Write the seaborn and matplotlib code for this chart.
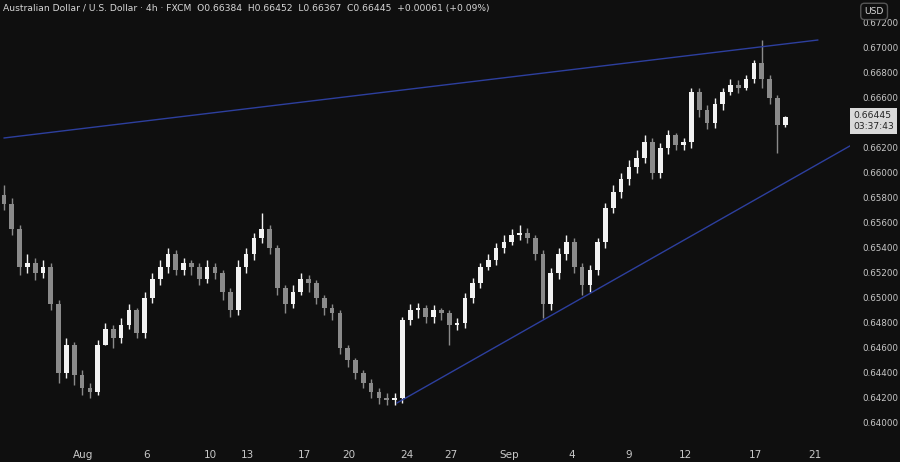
import matplotlib
matplotlib.use("Agg")
import matplotlib.pyplot as plt
import seaborn as sns
import numpy as np
import pandas as pd

closes = [0.6575,0.6555,0.6525,0.6528,0.6520,0.6525,0.6495,0.6440,0.6462,0.6438,
          0.6428,0.6425,0.6462,0.6475,0.6468,0.6478,0.6490,0.6472,0.6500,0.6515,
          0.6525,0.6535,0.6522,0.6528,0.6525,0.6515,0.6525,0.6520,0.6505,0.6490,
          0.6525,0.6535,0.6548,0.6555,0.6540,0.6508,0.6495,0.6505,0.6515,0.6512,
          0.6500,0.6492,0.6488,0.6460,0.6450,0.6440,0.6432,0.6425,0.6420,0.6418,
          0.6420,0.6482,0.6490,0.6492,0.6485,0.6490,0.6488,0.6478,0.6480,0.6500,
          0.6512,0.6525,0.6530,0.6540,0.6545,0.6550,0.6552,0.6548,0.6535,0.6495,
          0.6520,0.6535,0.6545,0.6525,0.6510,0.6522,0.6545,0.6572,0.6585,0.6595,
          0.6605,0.6612,0.6625,0.6600,0.6620,0.6630,0.6622,0.6625,0.6665,0.6650,
          0.6640,0.6655,0.6665,0.6670,0.6668,0.6675,0.6688,0.6675,0.6660,0.6638,
          0.66445]
opens = [0.6582] + closes[:-1]
highs = [0.6590,0.6580,0.6558,0.6535,0.6532,0.6530,0.6528,0.6498,0.6468,0.6465,
         0.6442,0.6432,0.6466,0.6480,0.6478,0.6484,0.6495,0.6492,0.6505,0.6520,
         0.6530,0.6540,0.6538,0.6532,0.6530,0.6528,0.6530,0.6528,0.6522,0.6508,
         0.6530,0.6540,0.6552,0.6568,0.6558,0.6542,0.6510,0.6510,0.6520,0.6518,
         0.6514,0.6502,0.6495,0.6490,0.6462,0.6452,0.6442,0.6435,0.6428,0.6424,
         0.6424,0.6485,0.6495,0.6496,0.6494,0.6494,0.6492,0.6490,0.6484,0.6504,
         0.6516,0.6528,0.6535,0.6544,0.6550,0.6555,0.6558,0.6556,0.6550,0.6538,
         0.6524,0.6540,0.6550,0.6548,0.6528,0.6526,0.6548,0.6576,0.6590,0.6600,
         0.6610,0.6618,0.6630,0.6628,0.6624,0.6634,0.6632,0.6628,0.6668,0.6668,
         0.6654,0.6660,0.6668,0.6675,0.6674,0.6678,0.6690,0.67064,0.6678,0.6662,
         0.66452]
lows =  [0.6570,0.6550,0.6518,0.6520,0.6514,0.6516,0.6490,0.6432,0.6436,0.6430,
         0.6422,0.6420,0.6422,0.6462,0.6460,0.6464,0.6475,0.6468,0.6468,0.6496,
         0.6510,0.6520,0.6518,0.6518,0.6518,0.6510,0.6512,0.6515,0.6498,0.6485,
         0.6486,0.6520,0.6530,0.6544,0.6535,0.6502,0.6488,0.6492,0.6502,0.6505,
         0.6495,0.6486,0.6482,0.6455,0.6445,0.6435,0.6428,0.6420,0.6415,0.6414,
         0.6414,0.6416,0.6478,0.6484,0.6480,0.6480,0.6482,0.6462,0.6474,0.6476,
         0.6496,0.6508,0.6522,0.6526,0.6536,0.6542,0.6546,0.6544,0.6530,0.6484,
         0.6490,0.6515,0.6530,0.6520,0.6502,0.6505,0.6518,0.6540,0.6568,0.6580,
         0.6590,0.6600,0.6608,0.6595,0.6596,0.6615,0.6618,0.6618,0.6620,0.6645,
         0.6635,0.6636,0.6650,0.6662,0.6664,0.6666,0.6672,0.6668,0.6655,0.6616,
         0.66367]

date_labels = ["Aug","6","10","13","17","20","24","27","Sep","4","9","12","17","21"]
date_pos = [10.2,18.2,26.4,31.2,38.5,44.1,51.6,57.2,64.7,72.7,80.0,87.3,96.2,103.8]
price_ticks = [0.640,0.642,0.644,0.646,0.648,0.650,0.652,0.654,0.656,0.658,
               0.660,0.662,0.666,0.668,0.670,0.672]
upper_line = ([0.0, 104.2], [0.6628, 0.67064])
lower_line = ([50.3, 108.5], [0.6416, 0.66224])
last_price = 0.66445

bg = "#0f0f0f"
sns.set_theme(style="dark")
df = pd.DataFrame({"i": np.arange(len(closes)), "o": opens, "c": closes, "h": highs, "l": lows})
df["up"] = df["c"] >= df["o"]

fig = plt.figure(figsize=(9, 4.62), dpi=100, facecolor=bg)
ax = fig.add_axes([0, 22/462, 850/900, 440/462])
ax.set_facecolor(bg)
for s in ax.spines.values():
    s.set_visible(False)
ax.grid(False)

up_c, dn_c = "#f2f2f2", "#8a8a8a"
for _, r in df.iterrows():
    col = up_c if r["up"] else dn_c
    ax.vlines(r["i"], r["l"], r["h"], color=col, lw=1, zorder=2)
    lo, hi = min(r["o"], r["c"]), max(r["o"], r["c"])
    ax.bar(r["i"], max(hi - lo, 0.00004), bottom=lo, width=0.6, color=col, zorder=3, linewidth=0)

sns.lineplot(x=upper_line[0], y=upper_line[1], ax=ax, color="#2d3f9e", lw=1)
sns.lineplot(x=lower_line[0], y=lower_line[1], ax=ax, color="#2d3f9e", lw=1)

ax.set_xlim(-0.5, 108.3)
ax.set_ylim(0.64 - 17/12500, 0.64 + 423/12500)
ax.set_xticks(date_pos)
ax.set_xticklabels(date_labels, color="#c8c8c8", fontsize=7.5)
ax.tick_params(axis="x", length=0, pad=7)
ax.yaxis.tick_right()
ax.set_yticks(price_ticks)
ax.set_yticklabels([f"{t:.5f}" for t in price_ticks], color="#c8c8c8", fontsize=6.3)
ax.tick_params(axis="y", length=0, pad=9)
ax.set_xlabel(""); ax.set_ylabel("")

ax.text(0.004, 0.99, "Australian Dollar / U.S. Dollar · 4h · FXCM  O0.66384  H0.66452  L0.66367  C0.66445  +0.00061 (+0.09%)",
        transform=ax.transAxes, color="#d8d8d8", fontsize=6.6, va="top", ha="left")
ax.text(1.004, last_price - 0.0003, f"{last_price:.5f}\n03:37:43", transform=ax.get_yaxis_transform(),
        color="#222222", fontsize=6.6, va="center", ha="left", linespacing=1.3,
        bbox=dict(boxstyle="square,pad=0.35", fc="#d9d9d9", ec="none"))
fig.text(0.982, 0.985, "USD", color="#d8d8d8", fontsize=6.6, va="top", ha="right",
         bbox=dict(boxstyle="round,pad=0.4", fc=bg, ec="#555555"))

fig.savefig("out.png", dpi=100, facecolor=bg)
